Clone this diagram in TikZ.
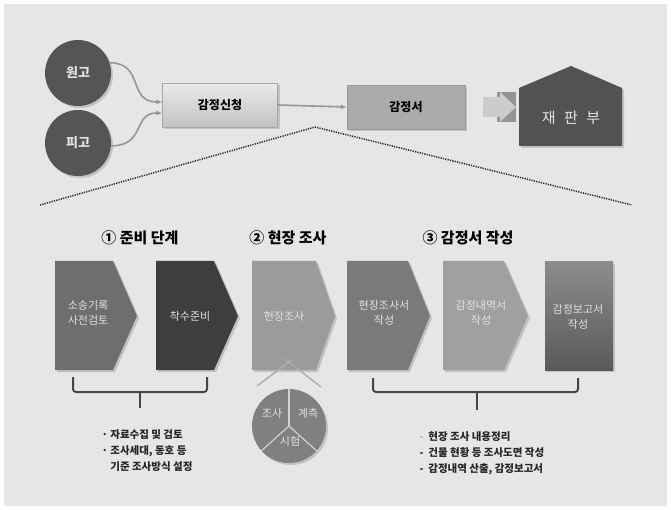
\documentclass[tikz,border=0pt]{standalone}
\usepackage{fontspec}
\setmainfont{Noto Sans CJK KR}
\usetikzlibrary{shadows,arrows.meta,calc}
\definecolor{bgc}{RGB}{230,230,230}
\definecolor{darkc}{RGB}{85,85,85}
\definecolor{housec}{RGB}{82,82,82}
\definecolor{cA}{RGB}{110,110,110}
\definecolor{cB}{RGB}{62,62,62}
\definecolor{cC}{RGB}{155,155,155}
\definecolor{cD}{RGB}{122,122,122}
\definecolor{cE}{RGB}{160,160,160}
\definecolor{pie}{RGB}{128,128,128}
\definecolor{linec}{RGB}{150,150,150}
\definecolor{brc}{RGB}{70,70,70}
\definecolor{txtl}{RGB}{225,225,225}
\tikzset{
  shad/.style={drop shadow={shadow xshift=2pt,shadow yshift=-2pt,opacity=0.35}},
  person/.style={circle,fill=darkc,minimum size=66pt,inner sep=0pt,text=txtl,font=\fontsize{13}{15}\selectfont\bfseries,shad},
  box/.style={rectangle,minimum width=115pt,minimum height=44pt,inner sep=0pt,font=\fontsize{12}{14}\selectfont\bfseries,shad},
  conn/.style={draw=linec,line width=1.6pt},
  head/.style={font=\fontsize{15}{18}\selectfont\bfseries,text=black},
  chev/.style={shad},
  ctext/.style={text=txtl,font=\fontsize{11}{15}\selectfont,align=center},
  brace/.style={draw=brc,line width=2pt,rounded corners=3pt},
  blist/.style={font=\fontsize{10.5}{16}\selectfont\bfseries,align=left,anchor=north west,text=black!85},
  pietext/.style={text=txtl,font=\fontsize{11}{13}\selectfont},
}
\begin{document}
\begin{tikzpicture}[x=1pt,y=-1pt]
\useasboundingbox (0,0) rectangle (671,510);
\fill[white] (0,0) rectangle (671,510);
\fill[bgc] (4,4) rectangle (667,506);

% top flow
\node[person] (won) at (78,73) {원고};
\node[person] (pi) at (78,143) {피고};
\node[box,top color=white!92!black,bottom color=white!76!black,draw=white!65!black] (req) at (220,105) {감정신청};
\node[box,fill=white!67!black,draw=white!60!black,minimum width=118pt] (app) at (406,107) {감정서};
\draw[conn,-{Latex[length=6pt,width=5pt]}] (won.18) .. controls +(35,0) and +(-35,0) .. ([yshift=3pt]req.west);
\draw[conn,-{Latex[length=6pt,width=5pt]}] (pi.-5) .. controls +(35,0) and +(-30,0) .. ([yshift=-8pt]req.west);
\draw[conn,-{Latex[length=6pt,width=5pt]}] (req.east) -- (app.west);

% block arrow
\fill[white!58!black] (497,92) rectangle (516,122);
\fill[white!80!black] (483,97) -- (500,97) -- (500,92) -- (516,107) -- (500,122) -- (500,117) -- (483,117) -- cycle;

% house
\fill[housec,shad] (519,88) -- (571,66) -- (622,88) -- (622,146) -- (519,146) -- cycle;
\node[text=txtl,font=\fontsize{15}{18}\selectfont] (court) at (571,118) {재\,\, 판\,\, 부};

% dotted expansion lines
\coordinate (apx) at (315,127);
\coordinate (lft) at (40,205);
\coordinate (rgt) at (632,205);
\draw[black!85,dash pattern=on 1.2pt off 1.2pt,line width=1.5pt] (lft) -- (apx) -- (rgt);

% headings
\node[head] (h1) at (140,238) {① 준비 단계};
\node[head] (h2) at (288,238) {② 현장 조사};
\node[head] (h3) at (468,238) {③ 감정서 작성};

% chevrons
\fill[cA,chev] (55,261) -- (113,261) -- (137,316) -- (113,370) -- (55,370) -- cycle;
\fill[cB,chev] (156,261) -- (214,261) -- (238,316) -- (214,370) -- (156,370) -- cycle;
\fill[cC,chev] (252,261) -- (316,261) -- (335,316) -- (316,370) -- (252,370) -- cycle;
\fill[cD,chev] (347,261) -- (408,261) -- (430,316) -- (408,370) -- (347,370) -- cycle;
\fill[cE,chev] (443,261) -- (504,261) -- (528,316) -- (504,370) -- (443,370) -- cycle;
\shade[top color=white!55!black,bottom color=white!35!black,shad] (545,262) rectangle (613,370);
\node[ctext] (t1) at (88,313) {소송기록\\사전검토};
\node[ctext] (t2) at (190,316) {착수준비};
\node[ctext] (t3) at (284,316) {현장조사};
\node[ctext] (t4) at (384,313) {현장조사서\\작성};
\node[ctext] (t5) at (481,313) {감정내역서\\작성};
\node[ctext] (t6) at (578,317) {감정보고서\\작성};

% pie
\node[circle,fill=pie,minimum size=74pt,inner sep=0pt,shad] (pc) at (289,426) {};
\draw[white!82!black,line width=1.2pt] (pc.center) -- (pc.90);
\draw[white!82!black,line width=1.2pt] (pc.center) -- (pc.222);
\draw[white!82!black,line width=1.2pt] (pc.center) -- (pc.318);
\coordinate (vl) at (257,386);
\coordinate (vr) at (321,387);
\coordinate (vt) at (289,362);
\draw[white!68!black,line width=1.4pt] (vl) -- ($(vl)!1.12!(vt)$);
\draw[white!68!black,line width=1.4pt] (vr) -- ($(vr)!1.12!(vt)$);
\node[pietext] (p1) at (272,413) {조사};
\node[pietext] (p2) at (308,413) {계측};
\node[pietext] (p3) at (290,441) {시험};

% braces
\draw[brace] (73,377) -- (73,392) -- (207,392) -- (207,377);
\draw[brace] (140,392) -- (140,408);
\draw[brace] (373,378) -- (373,392) -- (578,392) -- (578,378);
\draw[brace] (477,392) -- (477,410);

% bullet lists
\node[blist] (b1) at (98,426) {· 자료수집 및 검토\\· 조사세대, 동호 등\\\phantom{· }기준 조사방식 설정};
\node[blist] (b2) at (416,428) {{\color{black!30}-}\ \ 현장 조사 내용정리\\-\ \ 건물 현황 등 조사도면 작성\\-\ \ 감정내역 산출, 감정보고서};
\end{tikzpicture}
\end{document}
